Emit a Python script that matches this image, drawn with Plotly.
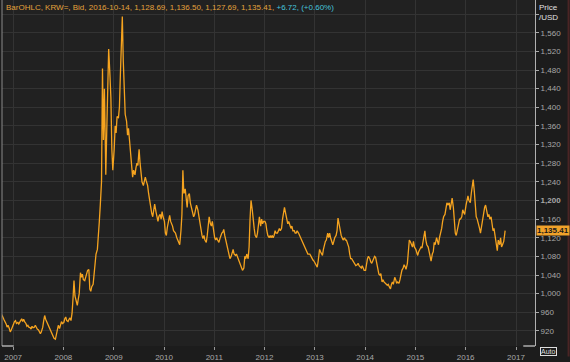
import datetime as dt
import plotly.graph_objects as go

# Weekly-ish readings (4 per month) of USD/KRW bid
v2006 = [958, 955, 950, 945, 940, 935, 928, 932, 925, 918, 922, 930]  # Oct-Dec
v2007 = [935, 940, 942, 936, 938, 935, 940, 944, 946, 940, 945, 940,
         936, 930, 932, 928, 927, 924, 930, 927, 928, 932, 926, 924,
         922, 918, 914, 918, 928, 942, 953, 945, 938, 934, 930, 924,
         920, 915, 910, 904, 902, 912, 925, 932, 925, 935, 940, 936]
v2008 = [938, 946, 950, 942, 940, 945, 948, 942, 958, 990, 1028, 995,
         982, 975, 988, 1000, 1045, 1035, 1042, 1030, 1028, 1035, 1042, 1050,
         1052, 1010, 1005, 1015, 1020, 1040, 1062, 1085, 1095, 1120, 1155, 1190,
         1240, 1483, 1330, 1440, 1255, 1350, 1450, 1525, 1470, 1420, 1310, 1265]
v2009 = [1310, 1360, 1345, 1380, 1378, 1400, 1470, 1520, 1595, 1500, 1420, 1385,
         1370, 1340, 1355, 1330, 1285, 1262, 1250, 1265, 1255, 1270, 1280, 1275,
         1310, 1280, 1255, 1240, 1232, 1245, 1250, 1242, 1232, 1215, 1200, 1182,
         1172, 1165, 1180, 1192, 1175, 1160, 1155, 1166, 1170, 1160, 1176, 1165]
v2010 = [1155, 1130, 1125, 1142, 1160, 1168, 1155, 1150, 1145, 1135, 1132, 1130,
         1120, 1115, 1108, 1105, 1135, 1170, 1265, 1215, 1225, 1200, 1185, 1210,
         1215, 1195, 1185, 1180, 1165, 1170, 1180, 1190, 1180, 1165, 1150, 1140,
         1125, 1118, 1125, 1115, 1110, 1125, 1155, 1165, 1150, 1145, 1155, 1135]
v2011 = [1120, 1115, 1120, 1115, 1110, 1118, 1125, 1130, 1132, 1138, 1125, 1115,
         1100, 1088, 1085, 1075, 1080, 1088, 1095, 1085, 1082, 1085, 1080, 1075,
         1065, 1060, 1055, 1050, 1055, 1080, 1075, 1085, 1075, 1100, 1160, 1200,
         1180, 1150, 1140, 1125, 1120, 1130, 1155, 1165, 1145, 1160, 1150, 1155]
v2012 = [1155, 1150, 1135, 1125, 1120, 1125, 1120, 1125, 1120, 1125, 1135, 1130,
         1130, 1135, 1140, 1135, 1140, 1160, 1175, 1185, 1170, 1160, 1150, 1155,
         1145, 1140, 1145, 1135, 1135, 1130, 1130, 1135, 1130, 1125, 1120, 1115,
         1110, 1105, 1100, 1095, 1090, 1085, 1085, 1085, 1080, 1075, 1072, 1070]
v2013 = [1065, 1062, 1057, 1070, 1095, 1090, 1085, 1082, 1095, 1105, 1112, 1115,
         1130, 1120, 1130, 1120, 1110, 1105, 1112, 1120, 1125, 1135, 1162, 1150,
         1140, 1125, 1120, 1115, 1120, 1115, 1115, 1110, 1100, 1085, 1075, 1075,
         1070, 1065, 1062, 1060, 1062, 1065, 1060, 1058, 1055, 1060, 1055, 1050]
v2014 = [1050, 1065, 1075, 1080, 1075, 1068, 1065, 1070, 1075, 1080, 1078, 1068,
         1055, 1042, 1040, 1043, 1025, 1030, 1025, 1022, 1020, 1018, 1020, 1015,
         1010, 1020, 1025, 1020, 1035, 1030, 1022, 1025, 1022, 1030, 1042, 1050,
         1055, 1062, 1058, 1052, 1065, 1095, 1115, 1112, 1105, 1100, 1112, 1100]
v2015 = [1095, 1085, 1082, 1090, 1095, 1100, 1098, 1110, 1120, 1135, 1115, 1105,
         1100, 1090, 1080, 1070, 1085, 1090, 1110, 1105, 1120, 1110, 1105, 1120,
         1130, 1140, 1155, 1165, 1170, 1180, 1195, 1190, 1195, 1180, 1195, 1205,
         1185, 1160, 1130, 1125, 1140, 1155, 1160, 1160, 1165, 1180, 1172, 1170]
v2016 = [1190, 1200, 1210, 1200, 1195, 1215, 1235, 1245, 1220, 1190, 1165, 1160,
         1150, 1140, 1130, 1145, 1160, 1170, 1185, 1190, 1175, 1165, 1170, 1160,
         1165, 1150, 1135, 1140, 1120, 1110, 1092, 1115, 1105, 1120, 1100, 1105,
         1112, 1128]
last_date = "2016-10-14"
last_value = 1135.41

year_blocks = [(2006, 10, v2006), (2007, 1, v2007), (2008, 1, v2008), (2009, 1, v2009),
               (2010, 1, v2010), (2011, 1, v2011), (2012, 1, v2012), (2013, 1, v2013),
               (2014, 1, v2014), (2015, 1, v2015), (2016, 1, v2016)]
week_days = [4, 11, 18, 25]

dates, values = [], []
for yr, m0, vals in year_blocks:
    for i, v in enumerate(vals):
        dates.append(dt.date(yr, m0 + i // 4, week_days[i % 4]).isoformat())
        values.append(v)
dates.append(last_date)
values.append(last_value)

y_ticks = list(range(920, 1601, 40))
y_text = []
for t in y_ticks:
    if t == 1600:
        y_text.append("")
    elif t == 1200:
        y_text.append("<b>1,200</b>")
    else:
        y_text.append(f"{t:,}")

ORANGE = "#f5a31f"
GRID = "#333333"
TXT = "#a8a8a8"
FONT = "Liberation Sans, Arial, sans-serif"

fig = go.Figure()
fig.add_trace(go.Scatter(x=dates, y=values, mode="lines",
                         line=dict(color=ORANGE, width=1.3), hoverinfo="skip"))

fig.update_layout(
    width=570, height=362,
    margin=dict(l=2, r=35, t=0, b=10),
    paper_bgcolor="#1c1c1c", plot_bgcolor="#212121",
    showlegend=False,
    font=dict(family=FONT, size=8, color=TXT),
    xaxis=dict(type="date", range=["2006-10-12", "2017-05-19"],
               tick0="2007-01-01", dtick="M12", tickformat="%Y",
               showgrid=True, gridcolor=GRID, gridwidth=1,
               ticks="outside", ticklen=3, tickcolor="#999",
               tickfont=dict(size=8, color=TXT), zeroline=False, showline=False),
    yaxis=dict(side="right", range=[887.6, 1630.3],
               tickvals=y_ticks, ticktext=y_text,
               showgrid=True, gridcolor=GRID, gridwidth=1,
               ticks="outside", ticklen=3, tickcolor="#aaa",
               showline=True, linecolor="#b0b0b0", linewidth=1,
               tickfont=dict(size=8, color=TXT), zeroline=False),
)

# left border and bottom short segments
fig.add_shape(type="line", xref="paper", yref="paper", x0=0, x1=0, y0=0, y1=1,
              line=dict(color="#8a8a8a", width=1))
fig.add_shape(type="line", xref="paper", yref="paper", x0=0, x1=0.022, y0=0, y1=0,
              line=dict(color="#d0d0d0", width=1.2))
fig.add_shape(type="line", xref="paper", yref="paper", x0=0.978, x1=1.0, y0=0, y1=0,
              line=dict(color="#d0d0d0", width=1.2))
fig.add_shape(type="line", xref="paper", yref="paper", x0=1.063, x1=1.063, y0=-0.03, y1=1,
              line=dict(color="#4a2424", width=2))

header = ("<span style='color:#e3a23c'>BarOHLC, KRW=, Bid, 2016-10-14, 1,128.69, 1,136.50, "
          "1,127.69, 1,135.41, </span><span style='color:#46c3dc'>+6.72, (+0.60%)</span>")
fig.add_annotation(xref="paper", yref="paper", x=0.004, y=1, xanchor="left", yanchor="top",
                   text=header, showarrow=False, font=dict(size=8, family=FONT), yshift=-1)
fig.add_annotation(xref="paper", yref="paper", x=1.004, y=1, xanchor="left", yanchor="top",
                   text="Price<br>/USD", showarrow=False, align="left",
                   font=dict(size=8, color="#e0e0e0", family=FONT), yshift=-1)
fig.add_annotation(xref="paper", yref="y", x=1.0, y=last_value, xanchor="left", yanchor="middle",
                   text="<b>1,135.41</b>", showarrow=False, bgcolor="#f0a22a",
                   font=dict(size=8, color="#1a1a1a", family=FONT), borderpad=0, xshift=1)
fig.add_annotation(xref="paper", yref="paper", x=1.01, y=0, xanchor="left", yanchor="middle",
                   text="Auto", showarrow=False, bordercolor="#dddddd", borderwidth=1,
                   font=dict(size=7, color="#dddddd", family=FONT), borderpad=0, yshift=-5)

fig.write_html("out.html",
               config={"displayModeBar": False, "staticPlot": True},
               post_script="document.body.style.margin='0';"
                           "document.body.style.overflow='hidden';"
                           "document.body.style.background='#1c1c1c';")
